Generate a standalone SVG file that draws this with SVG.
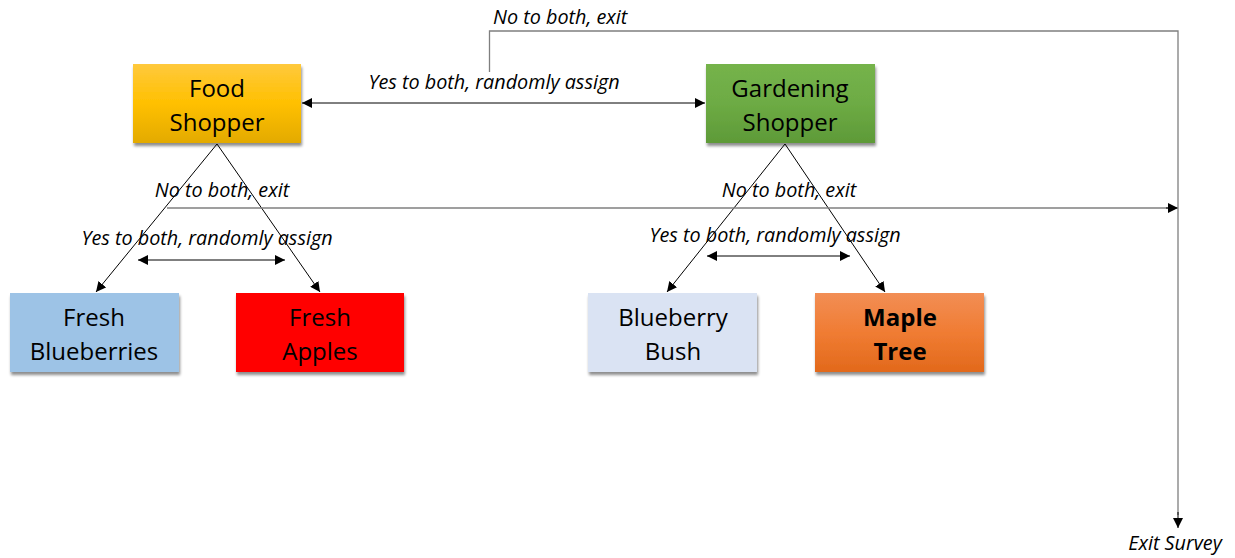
<svg xmlns="http://www.w3.org/2000/svg" width="1235" height="558" viewBox="0 0 1235 558">
<defs>
<style>
.box{stroke:none}
.t{font-family:"Open Sans",Lato,sans-serif;font-size:24px;fill:#000;text-anchor:middle}
.b{font-weight:bold}
.lbl{font-family:"Open Sans",Lato,sans-serif;font-size:19.8px;font-style:italic;fill:#000}
.c{fill:none;stroke:#000;stroke-width:1}
.g{fill:none;stroke:#7f7f7f;stroke-width:1.3}
</style>
<linearGradient id="gy" x1="0" y1="0" x2="0" y2="1"><stop offset="0" stop-color="#FFC93D"/><stop offset="0.5" stop-color="#FFC000"/><stop offset="1" stop-color="#E3AA00"/></linearGradient>
<linearGradient id="gg" x1="0" y1="0" x2="0" y2="1"><stop offset="0" stop-color="#75B34B"/><stop offset="0.5" stop-color="#6DAB44"/><stop offset="1" stop-color="#5E9A38"/></linearGradient>
<linearGradient id="go" x1="0" y1="0" x2="0" y2="1"><stop offset="0" stop-color="#F28E55"/><stop offset="0.5" stop-color="#F07C33"/><stop offset="1" stop-color="#E2691B"/></linearGradient>
<filter id="sh" x="-10%" y="-10%" width="130%" height="140%"><feGaussianBlur in="SourceAlpha" stdDeviation="1.5"/><feOffset dx="1" dy="2.5"/><feComponentTransfer><feFuncA type="linear" slope="0.45"/></feComponentTransfer><feMerge><feMergeNode/><feMergeNode in="SourceGraphic"/></feMerge></filter>
<marker id="ah" viewBox="0 0 10 10" refX="10" refY="5" markerWidth="10" markerHeight="10" markerUnits="userSpaceOnUse" orient="auto-start-reverse"><path d="M0,0 L10,5 L0,10 z" fill="#000"/></marker>
</defs>
<g id="connectors">
<line class="c" x1="302" y1="103" x2="705" y2="103" marker-start="url(#ah)" marker-end="url(#ah)"/>
<line class="c" x1="217" y1="144" x2="96" y2="292" marker-end="url(#ah)"/>
<line class="c" x1="217" y1="144" x2="320" y2="292" marker-end="url(#ah)"/>
<line class="c" x1="785" y1="144" x2="667" y2="292" marker-end="url(#ah)"/>
<line class="c" x1="785" y1="144" x2="885" y2="292" marker-end="url(#ah)"/>
<line class="c" x1="138" y1="260" x2="285" y2="260" marker-start="url(#ah)" marker-end="url(#ah)"/>
<line class="c" x1="707" y1="256" x2="850" y2="256" marker-start="url(#ah)" marker-end="url(#ah)"/>
<line class="g" x1="167" y1="208" x2="1168" y2="208"/>
<line class="c" x1="1166" y1="208" x2="1178" y2="208" marker-end="url(#ah)"/>
<polyline class="g" points="489.5,72 489.5,31 1178,31 1178,515"/>
<line class="c" x1="1178" y1="512" x2="1178" y2="528" marker-end="url(#ah)"/>
<text class="lbl" x="494" y="89" text-anchor="middle">Yes to both, randomly assign</text>
<text class="lbl" x="493" y="24">No to both, exit</text>
<text class="lbl" x="222" y="197" text-anchor="middle">No to both, exit</text>
<text class="lbl" x="789" y="197" text-anchor="middle">No to both, exit</text>
<text class="lbl" x="207" y="245" text-anchor="middle">Yes to both, randomly assign</text>
<text class="lbl" x="775" y="242" text-anchor="middle">Yes to both, randomly assign</text>
<text class="lbl" x="1175" y="550" text-anchor="middle">Exit Survey</text>
</g>
<g id="food-shopper">
<rect class="box" x="133" y="64" width="168" height="79" fill="url(#gy)" filter="url(#sh)"/>
<text class="t" x="217" y="97">Food</text>
<text class="t" x="217" y="131">Shopper</text>
</g>
<g id="gardening-shopper">
<rect class="box" x="706" y="64" width="169" height="79" fill="url(#gg)" filter="url(#sh)"/>
<text class="t" x="790" y="97">Gardening</text>
<text class="t" x="790" y="131">Shopper</text>
</g>
<g id="fresh-blueberries">
<rect class="box" x="10" y="293" width="169" height="79" fill="#9DC3E6" filter="url(#sh)"/>
<text class="t" x="94" y="326">Fresh</text>
<text class="t" x="94" y="360">Blueberries</text>
</g>
<g id="fresh-apples">
<rect class="box" x="236" y="293" width="168" height="79" fill="#FF0000" filter="url(#sh)"/>
<text class="t" x="320" y="326">Fresh</text>
<text class="t" x="320" y="360">Apples</text>
</g>
<g id="blueberry-bush">
<rect class="box" x="588" y="293" width="169" height="79" fill="#DAE3F3" filter="url(#sh)"/>
<text class="t" x="673" y="326">Blueberry</text>
<text class="t" x="673" y="360">Bush</text>
</g>
<g id="maple-tree">
<rect class="box" x="815" y="293" width="169" height="79" fill="url(#go)" filter="url(#sh)"/>
<text class="t b" x="900" y="326">Maple</text>
<text class="t b" x="900" y="360">Tree</text>
</g>
</svg>
